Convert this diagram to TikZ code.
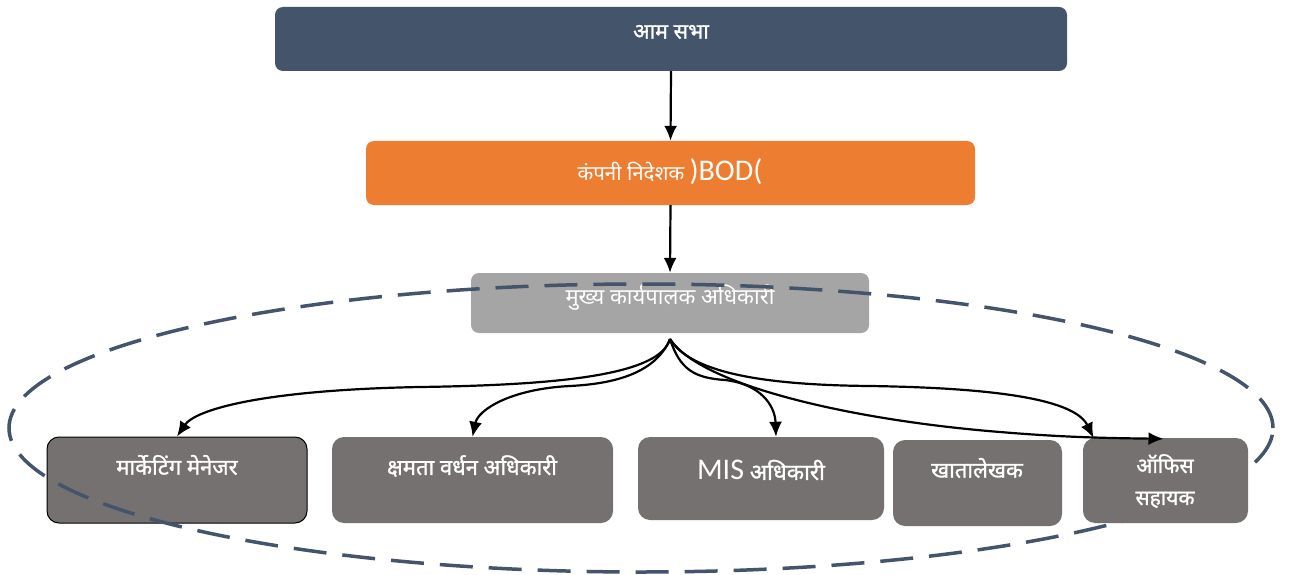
\documentclass[tikz,border=0pt]{standalone}
\usepackage{fontspec}
\setmainfont{Noto Sans}[Script=Devanagari]
\newfontfamily\bdeva{Noto Sans}[Script=Devanagari, FakeBold=1.2]
\newfontfamily\lat{Carlito}
\usetikzlibrary{arrows.meta,calc}
\definecolor{slate}{HTML}{44546A}
\definecolor{orng}{HTML}{ED7D31}
\definecolor{lgray}{HTML}{A5A5A5}
\definecolor{dgray}{HTML}{767171}
\begin{document}
\begin{tikzpicture}[x=1pt,y=-1pt,
  box/.style={rounded corners=8pt, inner sep=0pt, draw=none},
  lowbox/.style={box, fill=dgray, rounded corners=12pt},
  txt/.style={text=white, inner sep=0pt},
  btxt/.style={txt, font=\fontsize{22}{25}\selectfont\bdeva},
  arr/.style={line width=2.2pt, -{Latex[length=15pt,width=13pt]}},
  ring/.style={draw=slate, line width=3.5pt, dash pattern=on 33pt off 16pt}
]
\useasboundingbox (0,0) rectangle (1290,575);
\fill[white] (0,0) rectangle (1290,575);

\node[box, fill=slate, minimum width=792pt, minimum height=64pt] (ams) at (671,39) {};
\node[box, fill=orng, minimum width=609pt, minimum height=64pt] (bod) at (670.5,173) {};
\node[box, fill=lgray, minimum width=398pt, minimum height=60pt] (ceo) at (670,303) {};
\node[lowbox, draw=black, line width=1pt, minimum width=260pt, minimum height=86pt] (mm) at (177,480) {};
\node[lowbox, minimum width=281pt, minimum height=86pt] (kv) at (472.5,480) {};
\node[lowbox, minimum width=246pt, minimum height=83pt] (mis) at (761,478.5) {};
\node[lowbox, minimum width=169pt, minimum height=86pt] (acc) at (977.5,483) {};

\node[txt, font=\fontsize{21.5}{24}\selectfont\bdeva] (tams) at (671,32) {आम सभा};
\node[txt, font=\fontsize{20.5}{23}\selectfont] (tbod) at (670,172) {कंपनी निदेशक {\lat\fontsize{30}{32}\selectfont )BOD(}};
\node[txt, font=\fontsize{22}{25}\selectfont] (tceo) at (670,298) {मुख्य कार्यपालक अधिकारी};
\node[btxt] (tmm) at (177,465) {मार्केटिंग मेनेजर};
\node[btxt] (tkv) at (472,466) {क्षमता वर्धन अधिकारी};
\node[txt, font=\fontsize{22.5}{25}\selectfont\bdeva] (tmis) at (761,470) {{\lat\fontsize{30}{32}\selectfont MIS} अधिकारी};
\node[btxt] (tacc) at (977,468) {खातालेखक};

\draw[ring] (641,428) ellipse [x radius=632pt, y radius=144pt];

\node[lowbox, minimum width=165pt, minimum height=85pt] (off) at (1165.5,480.5) {};
\node[btxt, align=center, font=\fontsize{21}{32}\selectfont\bdeva] (toff) at (1165,481) {ऑफिस\\सहायक};

\coordinate (fan) at (670,339);
\draw[arr] (ams.south) -- (bod.north);
\draw[arr] (bod.south) -- (ceo.north);
\draw[arr] (fan) .. controls (660,375) and (560,385) .. (420,387) .. controls (260,390) and (195,410) .. (mm.north);
\draw[arr] (fan) .. controls (655,375) and (610,384) .. (570,386) .. controls (510,389) and (478,410) .. (kv.north);
\draw[arr] (fan) .. controls (680,370) and (695,378) .. (725,380) .. controls (760,384) and (775,405) .. ([xshift=15pt]mis.north);
\draw[arr] (fan) .. controls (690,372) and (760,385) .. (870,386) .. controls (1000,388) and (1075,400) .. ([xshift=-72pt]off.north);
\draw[arr] (fan) .. controls (700,385) and (850,420) .. (1000,432) .. controls (1060,437) and (1100,438) .. ([xshift=-2pt,yshift=-1pt]off.north);
\end{tikzpicture}
\end{document}
